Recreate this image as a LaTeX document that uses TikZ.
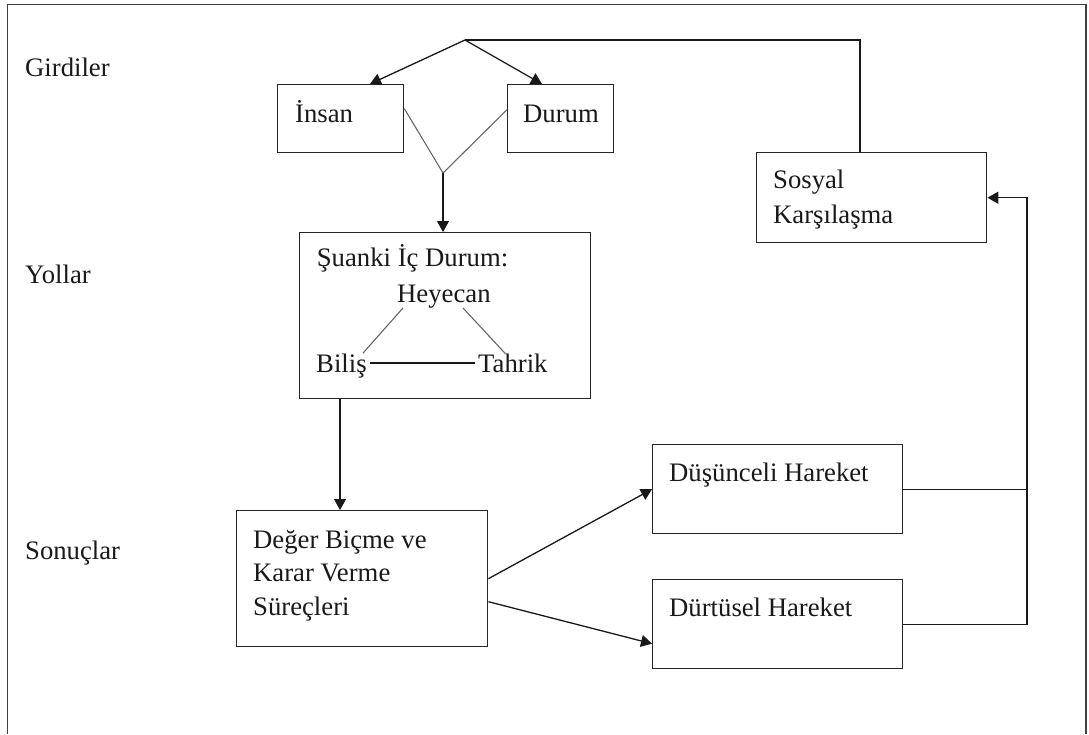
\documentclass[tikz,border=0pt]{standalone}
\usepackage{fontspec}
\setmainfont{Liberation Serif}
\usetikzlibrary{arrows.meta,calc}
\tikzset{
  boxnode/.style={draw=black!85, line width=1.4pt, rectangle, inner sep=0pt, anchor=north west},
  txt/.style={inner sep=0pt, anchor=base west, font=\fontsize{26.7}{34}\selectfont, text=black!90},
  mtxt/.style={inner sep=0pt, anchor=base west, align=left, font=\fontsize{26.7}{33.5}\selectfont, text=black!90},
  conn/.style={line width=1.3pt, draw=black!90},
  arr/.style={conn, -{Triangle[length=11pt,width=12pt]}},
  thinline/.style={line width=1.1pt, draw=black!60},
  frameline/.style={line width=1.6pt, draw=black!75}
}
\begin{document}
\begin{tikzpicture}[x=1pt,y=-1pt]
\useasboundingbox (0,0) rectangle (1089,734);
% outer frame (open at bottom)
\draw[frameline] (7.5,734) -- (7.5,4.5) -- (1086,4.5) -- (1086,734);
% row labels
\node[txt] (girdiler) at (25,76) {Girdiler};
\node[txt] (yollar) at (25,283) {Yollar};
\node[txt] (sonuclar) at (25,559) {Sonuçlar};
% boxes
\node[boxnode, minimum width=126pt, minimum height=68pt] (insan) at (277,84) {};
\node[boxnode, minimum width=106pt, minimum height=68pt] (durum) at (507,84) {};
\node[boxnode, minimum width=230pt, minimum height=90pt] (sosyal) at (756,152) {};
\node[boxnode, minimum width=291pt, minimum height=166pt] (suanki) at (299,232) {};
\node[boxnode, minimum width=251pt, minimum height=136pt] (deger) at (236,510) {};
\node[boxnode, minimum width=250pt, minimum height=89pt] (dusun) at (652,444) {};
\node[boxnode, minimum width=250pt, minimum height=89pt] (durtu) at (652,579) {};
% texts (multi-line nodes anchored at the baseline of their last line)
\node[txt] (insanT) at (295,122.7) {İnsan};
\node[txt] (durumT) at (523,122.7) {Durum};
\node[mtxt, font=\fontsize{26.7}{35}\selectfont] (sosyalT) at (773,223) {Sosyal\\Karşılaşma};
\node[txt] (suankiT) at (316.7,266.7) {Şuanki İç Durum:};
\node[txt] (heyecan) at (397,302) {Heyecan};
\node[txt] (bilis) at (316,372) {Biliş};
\node[txt] (tahrik) at (478,372) {Tahrik};
\node[mtxt] (degerT) at (253,615) {Değer Biçme ve\\Karar Verme\\Süreçleri};
\node[txt] (dusunT) at (669,481.7) {Düşünceli Hareket};
\node[txt] (durtuT) at (669,616.7) {Dürtüsel Hareket};
% top fork
\coordinate (apex) at (465,40);
\draw[arr] (apex) -- ([xshift=93pt]insan.north west);
\draw[arr] (apex) -- ([xshift=35pt]durum.north west);
\draw[conn] (apex) -| ([xshift=104pt]sosyal.north west);
% V join
\coordinate (vjoin) at (443,173);
\draw[thinline] ([yshift=10pt]insan.east) -- (vjoin) -- ([yshift=9pt]durum.west);
\draw[arr] (vjoin) -- (vjoin |- suanki.north);
% inner triangle
\draw[thinline] ([xshift=6pt]heyecan.south west) -- ([xshift=-4pt]bilis.north east);
\draw[thinline] ([xshift=66pt]heyecan.south west) -- ([xshift=27pt]tahrik.north west);
\draw[conn] ($(bilis.east |- tahrik.west)+(3,0)$) -- ([xshift=-3pt]tahrik.west);
% down to decision
\coordinate (sd) at ([xshift=41pt]suanki.south west);
\draw[arr] (sd) -- (sd |- deger.north);
% outcomes
\draw[arr] (deger.east) -- (dusun.west);
\draw[arr] ([yshift=-23pt]deger.east) -- ([yshift=-19.5pt]durtu.west);
% feedback
\coordinate (rx) at (1027,0);
\draw[conn] (dusun.east) -- (rx |- dusun.east);
\draw[arr] (durtu.east) -| (rx |- sosyal.east) -- (sosyal.east);
\end{tikzpicture}
\end{document}
